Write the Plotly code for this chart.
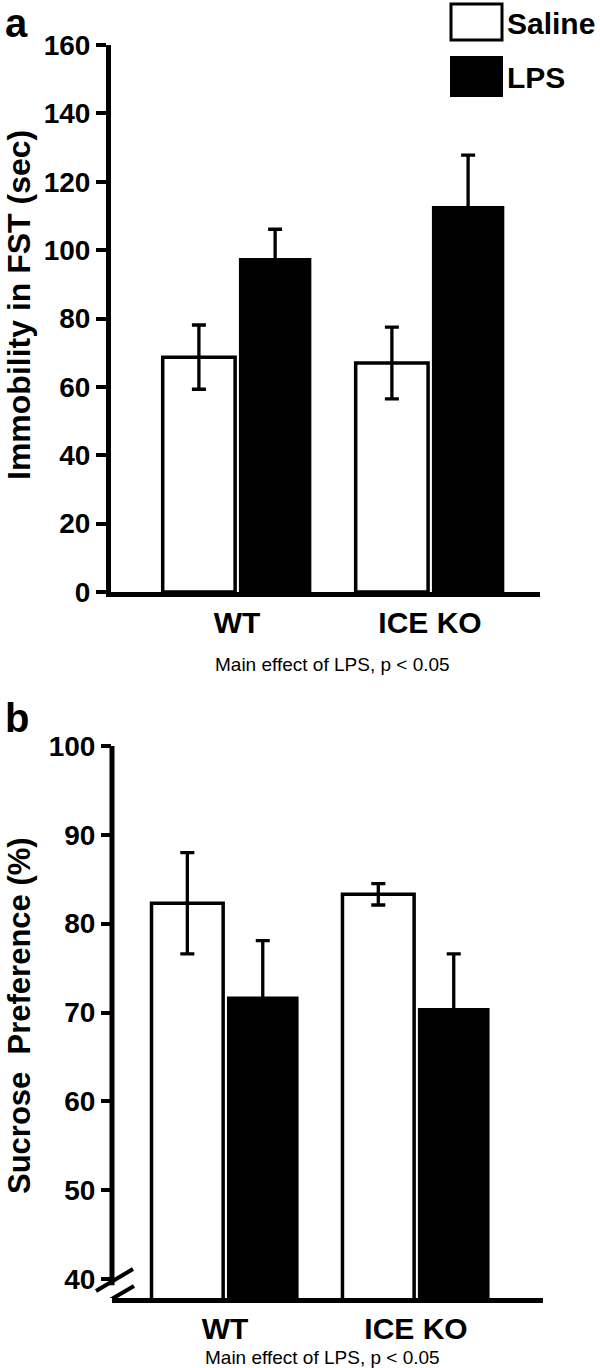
import plotly.graph_objects as go

# ---------------- data ----------------
groups = ["WT", "ICE KO"]
series_names = ["Saline", "LPS"]

# Panel a: Immobility in FST (sec)
fst_saline = [68.7, 67.0]
fst_saline_err = [9.4, 10.5]
fst_lps = [97.7, 112.9]
fst_lps_err = [8.4, 14.9]
fst_ticks = [0, 20, 40, 60, 80, 100, 120, 140, 160]

# Panel b: Sucrose Preference (%)
suc_saline = [82.3, 83.3]
suc_saline_err = [5.7, 1.2]
suc_lps = [71.8, 70.5]
suc_lps_err = [6.3, 6.1]
suc_ticks = [40, 50, 60, 70, 80, 90, 100]

FONT = "Liberation Sans, Arial, sans-serif"
W, H = 600, 1368


def px_x(x):
    return x / W


def px_y(y):
    return 1 - y / H


fig = go.Figure()

err_style = dict(type="data", color="black", thickness=3.3, width=7, visible=True)

# Panel a
fig.add_trace(go.Bar(x=groups, y=fst_saline, name=series_names[0],
                     marker=dict(color="white", line=dict(color="black", width=3.5)),
                     error_y=dict(array=fst_saline_err, **err_style),
                     xaxis="x", yaxis="y"))
fig.add_trace(go.Bar(x=groups, y=fst_lps, name=series_names[1],
                     marker=dict(color="black", line=dict(color="black", width=0)),
                     error_y=dict(array=fst_lps_err, **err_style),
                     xaxis="x", yaxis="y"))
# Panel b
fig.add_trace(go.Bar(x=groups, y=suc_saline, name=series_names[0],
                     marker=dict(color="white", line=dict(color="black", width=3.5)),
                     error_y=dict(array=suc_saline_err, **err_style),
                     xaxis="x2", yaxis="y2"))
fig.add_trace(go.Bar(x=groups, y=suc_lps, name=series_names[1],
                     marker=dict(color="black", line=dict(color="black", width=0)),
                     error_y=dict(array=suc_lps_err, **err_style),
                     xaxis="x2", yaxis="y2"))

xcommon = dict(type="category", showline=True, linewidth=5, linecolor="black",
               ticks="",
               tickfont=dict(family=FONT, size=30, color="black", weight="bold"),
               showgrid=False, zeroline=False, fixedrange=True, automargin=False)
ycommon = dict(showline=True, linewidth=5, linecolor="black",
               ticks="outside", ticklen=10, tickwidth=4, tickcolor="black",
               tickfont=dict(family=FONT, size=28, color="black", weight="bold"),
               showgrid=False, zeroline=False, fixedrange=True, automargin=False)

fig.update_layout(
    template="none",
    width=W, height=H,
    margin=dict(l=0, r=0, t=0, b=0, autoexpand=False),
    paper_bgcolor="white", plot_bgcolor="white",
    showlegend=False,
    barmode="group", bargap=0.21, bargroupgap=0.05,
    xaxis=dict(domain=[px_x(111), px_x(540)], range=[-0.653, 1.570], anchor="y", **xcommon),
    yaxis=dict(domain=[px_y(592), px_y(45)], range=[0, 160], tickvals=fst_ticks,
               anchor="x", **ycommon),
    xaxis2=dict(domain=[px_x(112), px_x(543)], range=[-0.592, 1.665], anchor="y2", **xcommon),
    yaxis2=dict(domain=[px_y(1298), px_y(746)], range=[37.86, 100], tickvals=suc_ticks,
                anchor="x2", **{**ycommon, "showline": False}),
)

shapes = []
# panel b y-axis line with break
shapes.append(dict(type="line", xref="x2 domain", yref="y2", x0=0, x1=0, y0=39.3, y1=100,
                   line=dict(color="black", width=5)))
for (a0, b0, a1, b1) in [(-16, -12, 21, 10), (-14, -28, 22, -7)]:
    shapes.append(dict(type="line", xref="x2 domain", yref="y2",
                       xsizemode="pixel", ysizemode="pixel", xanchor=0, yanchor=40,
                       x0=a0, y0=b0, x1=a1, y1=b1,
                       line=dict(color="black", width=4)))
# legend boxes
shapes.append(dict(type="rect", xref="paper", yref="paper",
                   x0=px_x(451), x1=px_x(502), y0=px_y(40), y1=px_y(4),
                   fillcolor="white", line=dict(color="black", width=3)))
shapes.append(dict(type="rect", xref="paper", yref="paper",
                   x0=px_x(451), x1=px_x(502), y0=px_y(96), y1=px_y(57),
                   fillcolor="black", line=dict(color="black", width=2)))
fig.update_layout(shapes=shapes)

ann = []
bold = dict(family=FONT, color="black", weight="bold")
ann.append(dict(text="a", x=px_x(3), y=px_y(23), xref="paper", yref="paper",
                xanchor="left", yanchor="middle", showarrow=False, font=dict(size=40, **bold)))
ann.append(dict(text="b", x=px_x(3), y=px_y(718), xref="paper", yref="paper",
                xanchor="left", yanchor="middle", showarrow=False, font=dict(size=40, **bold)))
ann.append(dict(text=series_names[0], x=px_x(505), y=px_y(23), xref="paper", yref="paper",
                xanchor="left", yanchor="middle", showarrow=False, font=dict(size=30, **bold)))
ann.append(dict(text=series_names[1], x=px_x(505), y=px_y(77), xref="paper", yref="paper",
                xanchor="left", yanchor="middle", showarrow=False, font=dict(size=30, **bold)))
ann.append(dict(text="Immobility in FST (sec)", x=px_x(19), y=px_y(305), xref="paper", yref="paper",
                xanchor="center", yanchor="middle", textangle=-90, showarrow=False,
                font=dict(size=32, **bold)))
ann.append(dict(text="Sucrose&nbsp; Preference (%)", x=px_x(19), y=px_y(1016), xref="paper",
                yref="paper", xanchor="center", yanchor="middle", textangle=-90, showarrow=False,
                font=dict(size=31, **bold)))
sub = dict(family=FONT, color="black", size=19)
ann.append(dict(text="Main effect of LPS, p < 0.05", x=px_x(332), y=px_y(664), xref="paper",
                yref="paper", xanchor="center", yanchor="middle", showarrow=False, font=sub))
ann.append(dict(text="Main effect of LPS, p < 0.05", x=px_x(322), y=px_y(1357), xref="paper",
                yref="paper", xanchor="center", yanchor="middle", showarrow=False, font=sub))
fig.update_layout(annotations=ann)

fig.write_html("out.html", config={"displayModeBar": False},
               post_script="document.body.style.margin='0';document.body.style.overflow='hidden';")
